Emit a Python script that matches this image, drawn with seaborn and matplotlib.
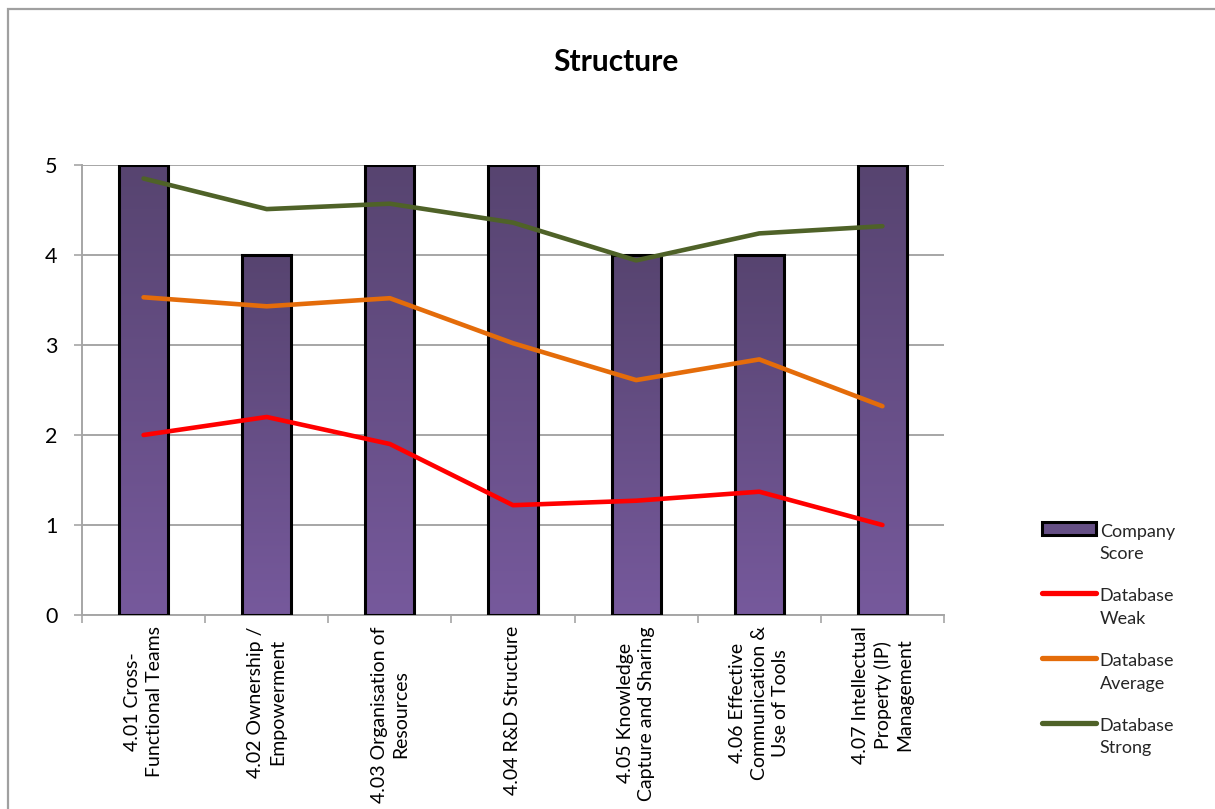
import numpy as np
import pandas as pd
import matplotlib
matplotlib.use("Agg")
import matplotlib.pyplot as plt
import matplotlib.patches as mpatches
from matplotlib.lines import Line2D
from matplotlib.colors import LinearSegmentedColormap
from matplotlib.legend_handler import HandlerLine2D, HandlerPatch
import seaborn as sns

# ---- data ----
categories = [
    "4.01 Cross-\nFunctional Teams",
    "4.02 Ownership /\nEmpowerment",
    "4.03 Organisation of\nResources",
    "4.04 R&D Structure",
    "4.05 Knowledge\nCapture and Sharing",
    "4.06 Effective\nCommunication &\nUse of Tools",
    "4.07 Intellectual\nProperty (IP)\nManagement",
]
company_score = [5, 4, 5, 5, 4, 4, 5]
db_weak = [2.00, 2.20, 1.90, 1.22, 1.27, 1.37, 1.00]
db_average = [3.53, 3.43, 3.52, 3.02, 2.61, 2.84, 2.32]
db_strong = [4.85, 4.51, 4.57, 4.36, 3.94, 4.24, 4.32]
y_ticks = [0, 1, 2, 3, 4, 5]
legend_labels = ["Company\nScore", "Database\nWeak", "Database\nAverage", "Database\nStrong"]

# ---- style ----
sns.set_theme(style="white")
plt.rcParams["font.family"] = ["Lato", "DejaVu Sans"]

GRID = "#a6a6a6"
BAR_TOP = "#574470"
BAR_BOTTOM = "#76599c"
RED = "#ff0000"
ORANGE = "#e46c0a"
GREEN = "#4f6228"

W, H = 1215, 809
fig = plt.figure(figsize=(W / 100, H / 100), dpi=100)
ax = fig.add_axes([82 / W, 1 - 615 / H, (944 - 82) / W, (615 - 165) / H])

df = pd.DataFrame({"category": categories, "score": company_score})
sns.barplot(data=df, x="category", y="score", ax=ax, width=0.4,
            color=BAR_BOTTOM, edgecolor="black", linewidth=2.2, zorder=3)

# vertical gradient inside each bar
cmap = LinearSegmentedColormap.from_list("barfill", [BAR_BOTTOM, BAR_TOP])
grad = np.linspace(0, 1, 256).reshape(-1, 1)
for p in list(ax.patches):
    x0, y0 = p.get_x(), p.get_y()
    w, h = p.get_width(), p.get_height()
    im = ax.imshow(grad, cmap=cmap, origin="lower", aspect="auto",
                   extent=[x0, x0 + w, y0, y0 + h], zorder=2.9,
                   interpolation="bilinear")
    im.set_clip_path(p)
    p.set_facecolor("none")
    p.set_zorder(3)

xs = np.arange(len(categories))
for vals, col in [(db_weak, RED), (db_average, ORANGE), (db_strong, GREEN)]:
    sns.lineplot(x=xs, y=vals, ax=ax, color=col, linewidth=3.3,
                 solid_capstyle="round", zorder=4)

ax.set_xlim(-0.5, len(categories) - 0.5)
ax.set_ylim(0, 5)
ax.set_yticks(y_ticks)
ax.set_yticklabels([str(t) for t in y_ticks], fontsize=15.5, color="black")
ax.set_xticks(xs)
ax.set_xticklabels(categories, rotation=90, fontsize=14, color="black",
                   va="top", ha="center", multialignment="center",
                   linespacing=1.32)
ax.set_xticks(np.arange(-0.5, len(categories)), minor=True)
ax.tick_params(axis="x", which="major", length=0, pad=8)
ax.tick_params(axis="x", which="minor", length=5.8, width=1.2, color=GRID,
               direction="out", bottom=True)
ax.tick_params(axis="y", length=5.8, width=1.2, color=GRID, direction="out",
               left=True, pad=12)
ax.set_xlabel("")
ax.set_ylabel("")

ax.grid(axis="y", color=GRID, linewidth=1.4, zorder=0)
ax.set_axisbelow(True)
for s in ["top", "right"]:
    ax.spines[s].set_visible(False)
for s in ["left", "bottom"]:
    ax.spines[s].set_color(GRID)
    ax.spines[s].set_linewidth(1.4)

fig.text(616 / W, 1 - 62 / H, "Structure", ha="center", va="center",
         fontsize=21.5, fontweight="bold", color="black")


# legend keys sit level with the first line of each two-line label
class RaisedLine(HandlerLine2D):
    def create_artists(self, legend, orig_handle, xdescent, ydescent,
                       width, height, fontsize, trans):
        arts = super().create_artists(legend, orig_handle, xdescent, ydescent,
                                      width, height, fontsize, trans)
        for a in arts:
            a.set_ydata(np.asarray(a.get_ydata()) + 0.8 * fontsize)
        return arts


class RaisedPatch(HandlerPatch):
    def create_artists(self, legend, orig_handle, xdescent, ydescent,
                       width, height, fontsize, trans):
        arts = super().create_artists(legend, orig_handle, xdescent, ydescent,
                                      width, height, fontsize, trans)
        for a in arts:
            a.set_y(a.get_y() + 0.8 * fontsize)
        return arts


handles = [
    mpatches.Patch(facecolor="#654f85", edgecolor="black", linewidth=2.2),
    Line2D([], [], color=RED, linewidth=3.8, solid_capstyle="round"),
    Line2D([], [], color=ORANGE, linewidth=3.8, solid_capstyle="round"),
    Line2D([], [], color=GREEN, linewidth=3.8, solid_capstyle="round"),
]
leg = fig.legend(handles, legend_labels, loc="center left",
                 bbox_to_anchor=(1042 / W, 1 - 640 / H),
                 frameon=False, fontsize=13, handlelength=3.0, handleheight=0.7,
                 handletextpad=0.2, labelspacing=1.45, borderaxespad=0,
                 borderpad=0,
                 handler_map={mpatches.Patch: RaisedPatch(),
                              Line2D: RaisedLine()})
for t in leg.get_texts():
    t.set_linespacing(1.5)

# outer chart border
fig.add_artist(mpatches.Rectangle((8 / W, -0.1), 1.2, (H - 9) / H + 0.1,
                                  transform=fig.transFigure, fill=False,
                                  edgecolor="#a0a0a0", linewidth=1.6))

fig.savefig("out.png", dpi=100)
